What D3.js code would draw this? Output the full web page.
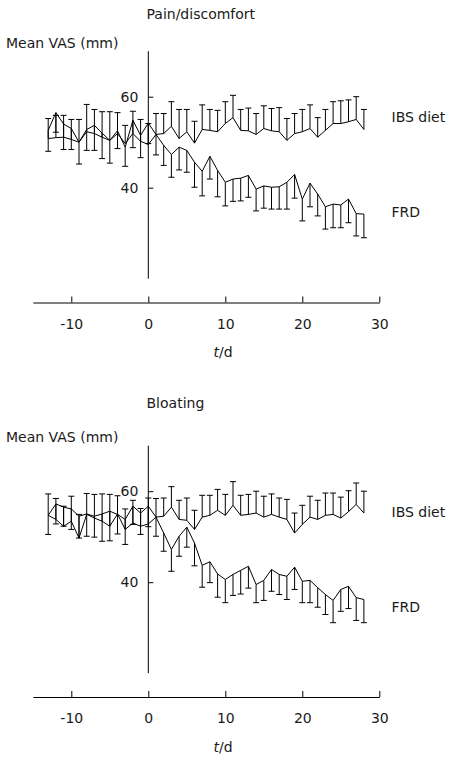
<!DOCTYPE html>
<html>
<head>
<meta charset="utf-8">
<script src="https://cdn.jsdelivr.net/npm/d3@7"></script>
<style>
  html, body { margin: 0; padding: 0; background: #fff; }
  svg { display: block; }
  text { font-family: "DejaVu Sans", Verdana, sans-serif; font-size: 14px; fill: #1a1a1a; }
</style>
</head>
<body>
<svg id="chart" width="458" height="760"></svg>
<script>
// ---- Data ----
const days = [-13,-12,-11,-10,-9,-8,-7,-6,-5,-4,-3,-2,-1,0,1,2,3,4,5,6,7,8,9,10,11,12,13,14,15,16,17,18,19,20,21,22,23,24,25,26,27,28];
const xTicks = [-10, 0, 10, 20, 30];
const yTicks = [40, 60];
const panelTitles = ["Pain/discomfort", "Bloating"];
const seriesNames = ["IBS diet", "FRD"];

// Pain/discomfort
const painIBS   = [50.8,51.0,51.1,50.6,50.0,52.3,51.9,51.1,50.4,51.9,49.7,51.9,50.2,49.5,51.7,51.9,53.5,50.8,52.3,49.8,52.8,52.6,52.3,54.1,55.4,52.6,52.5,51.7,53.0,52.5,52.3,50.4,51.9,52.3,53.0,51.1,52.6,54.1,54.1,54.5,55.0,52.8];
const painIBSse = [4.4,4.9,4.8,4.4,5.0,6.0,5.3,5.6,6.3,4.6,4.0,4.9,4.8,4.6,4.6,4.4,5.4,6.4,4.9,4.8,5.4,4.6,4.7,4.8,4.9,4.6,5.0,4.6,5.0,4.9,5.3,4.8,4.4,4.9,5.2,4.3,4.6,4.8,5.0,4.8,5.0,4.4];
const painFRD    = [52.6,56.5,54.0,53.0,50.0,52.8,53.7,52.0,50.4,52.5,48.9,54.8,51.5,54.2,51.7,49.3,47.3,48.9,48.2,45.6,43.6,46.9,43.8,41.2,41.9,42.1,42.7,39.7,40.4,40.1,40.2,41.2,42.9,37.5,41.0,38.6,35.8,36.4,36.2,37.5,34.3,34.2];
const painFRDse  = [4.6,4.3,5.6,4.6,4.8,4.6,5.5,5.6,5.0,3.9,4.2,6.0,4.9,4.5,4.5,4.4,5.0,5.0,4.8,5.5,5.4,5.0,5.8,5.2,4.9,5.0,4.8,4.8,4.9,4.8,4.9,5.9,5.2,4.8,5.2,4.8,4.9,5.2,5.0,5.2,4.9,5.2];

// Bloating
const bloatIBS   = [54.7,53.8,52.3,53.4,49.7,54.9,54.1,53.4,52.3,55.0,51.6,53.0,52.3,52.8,54.3,54.5,56.5,53.8,53.6,51.6,54.3,54.7,55.8,54.7,56.9,54.7,54.9,55.2,54.3,54.9,54.3,53.8,50.8,52.7,54.3,53.8,54.7,54.9,54.1,55.5,57.1,55.2];
const bloatIBSse = [4.7,4.6,4.4,5.5,5.2,4.6,5.2,6.0,7.0,4.0,4.5,5.0,3.9,5.7,4.1,4.0,4.5,4.2,4.9,4.2,4.8,4.4,4.6,4.6,5.2,4.4,4.4,4.8,4.6,4.5,4.2,4.4,4.4,4.2,4.6,4.2,4.9,4.7,4.6,4.6,4.7,4.8];
const bloatFRD   = [54.7,57.2,56.5,56.1,54.5,55.0,54.5,55.0,55.6,54.9,53.8,56.7,55.2,56.7,54.3,50.8,47.2,50.1,52.1,48.6,43.7,44.5,41.8,40.6,41.7,42.6,43.5,39.5,40.4,42.8,41.7,41.3,43.3,40.2,40.4,38.8,37.3,36.0,38.4,39.1,36.6,36.2];
const bloatFRDse = [4.2,4.4,4.2,4.5,4.8,4.9,4.6,6.0,6.5,4.3,5.5,4.0,4.7,4.5,4.2,4.0,4.8,4.4,4.4,5.0,4.8,4.6,5.1,5.1,4.6,5.2,4.8,4.0,4.4,4.8,4.4,5.1,4.9,4.7,4.9,4.3,4.4,4.9,4.8,4.9,5.0,5.1];

const panels = [
  { title: panelTitles[0], ibs: painIBS, ibsSe: painIBSse, frd: painFRD, frdSe: painFRDse, dy: 0, titleY: 19.3 },
  { title: panelTitles[1], ibs: bloatIBS, ibsSe: bloatIBSse, frd: bloatFRD, frdSe: bloatFRDse, dy: 394.5, titleY: 13.2 }
];

// ---- Layout ----
const svg = d3.select("#chart");
const x = d3.scaleLinear().domain([-15, 30]).range([32.8, 379.3]);
const y = d3.scaleLinear().domain([20, 70]).range([278.7, 51.2]);
const capW = 3;
const fmt = d => String(d);

panels.forEach(p => {
  const g = svg.append("g").attr("transform", `translate(0,${p.dy})`);

  // titles
  g.append("text").attr("x", 146.5).attr("y", p.titleY).text(p.title);
  g.append("text").attr("x", 6).attr("y", 47.7).text("Mean VAS (mm)");

  // y axis (inward ticks, detached from x axis)
  const yAxis = d3.axisRight(y).tickValues(yTicks).tickSize(5).tickFormat(fmt);
  const ya = g.append("g").attr("transform", `translate(${x(0)},0)`).call(yAxis);
  ya.select(".domain").attr("d", `M0,${y(70)}V${y(20)}`).attr("stroke", "#000");
  ya.selectAll(".tick line").attr("stroke", "#000");
  ya.selectAll(".tick text").attr("x", -10).attr("text-anchor", "end")
    .style("font-family", '"DejaVu Sans", Verdana, sans-serif').style("font-size", "14px").attr("fill", "#1a1a1a");

  // x axis (ticks pointing up)
  const xAxis = d3.axisBottom(x).tickValues(xTicks).tickSize(-6).tickSizeOuter(0).tickFormat(fmt);
  const xa = g.append("g").attr("transform", "translate(0,302.5)").call(xAxis);
  xa.select(".domain").attr("stroke", "#000");
  xa.selectAll(".tick line").attr("stroke", "#000");
  xa.selectAll(".tick text").attr("dy", null).attr("y", 26)
    .style("font-family", '"DejaVu Sans", Verdana, sans-serif').style("font-size", "14px").attr("fill", "#1a1a1a");

  const xl = g.append("text").attr("x", x(9.7)).attr("y", 357).attr("text-anchor", "middle");
  xl.append("tspan").attr("font-style", "italic").text("t");
  xl.append("tspan").text("/d");

  // error bars
  const bars = g.append("g").attr("stroke", "#000").attr("stroke-width", 1).attr("fill", "none");
  days.forEach((d, i) => {
    const xi = x(d);
    const ibsTop = y(p.ibs[i] + p.ibsSe[i]);
    const frdBot = y(p.frd[i] - p.frdSe[i]);
    bars.append("path").attr("d", `M${xi},${y(p.ibs[i])}V${ibsTop}M${xi - capW},${ibsTop}H${xi + capW}`);
    bars.append("path").attr("d", `M${xi},${y(p.frd[i])}V${frdBot}M${xi - capW},${frdBot}H${xi + capW}`);
  });

  // lines
  const line = d3.line().x((d, i) => x(days[i])).y(d => y(d));
  g.append("path").datum(p.ibs).attr("d", line).attr("fill", "none").attr("stroke", "#000").attr("stroke-width", 1);
  g.append("path").datum(p.frd).attr("d", line).attr("fill", "none").attr("stroke", "#000").attr("stroke-width", 1);

  // series labels
  g.append("text").attr("x", 391.5).attr("y", 122).text(seriesNames[0]);
  g.append("text").attr("x", 391.5).attr("y", 217).text(seriesNames[1]);
});
</script>
</body>
</html>
